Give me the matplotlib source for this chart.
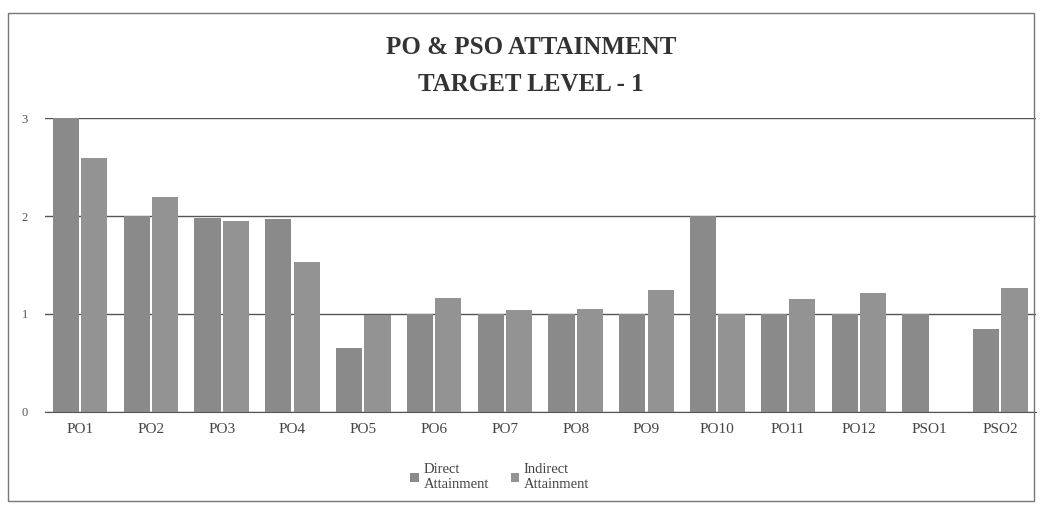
import matplotlib
matplotlib.use("Agg")
import matplotlib.pyplot as plt
import numpy as np
from matplotlib.patches import Rectangle

# values
categories = ["PO1", "PO2", "PO3", "PO4", "PO5", "PO6", "PO7", "PO8", "PO9",
              "PO10", "PO11", "PO12", "PSO1", "PSO2"]
direct = [3.0, 2.0, 1.98, 1.97, 0.65, 1.0, 1.0, 1.0, 1.0, 2.0, 1.0, 1.0, 1.0, 0.85]
indirect = [2.59, 2.19, 1.95, 1.53, 0.99, 1.16, 1.04, 1.05, 1.24, 1.0, 1.15, 1.21, 0.0, 1.26]
yticks = [0, 1, 2, 3]

plt.rcParams["font.family"] = ["Liberation Serif", "DejaVu Serif"]

fig = plt.figure(figsize=(10.41, 5.16), dpi=100)
ax = fig.add_axes([0.043, 0.202, 0.952, 0.569])

x = np.arange(len(categories))
w = 0.37
ax.bar(x - w / 2 - 0.015, direct, w, color="#8a8a8a", label="Direct\nAttainment", zorder=2)
ax.bar(x + w / 2 + 0.015, indirect, w, color="#939393", label="Indirect\nAttainment", zorder=2)

ax.set_xlim(-0.5, len(categories) - 0.5)
ax.set_ylim(0, 3)
ax.set_yticks(yticks)
ax.set_xticks(x)
ax.set_xticklabels(categories)
ax.grid(axis="y", color="#555555", linewidth=1.0, zorder=1)
ax.tick_params(axis="y", length=0, labelsize=9, labelcolor="#555555", pad=12)
ax.tick_params(axis="x", length=0, labelsize=11, labelcolor="#444444", pad=8)
for s in ("top", "right", "left"):
    ax.spines[s].set_visible(False)
ax.spines["bottom"].set_color("#555555")

fig.text(0.51, 0.907, "PO & PSO ATTAINMENT", ha="center", va="center",
         fontsize=18, fontweight="bold", color="#333333")
fig.text(0.51, 0.837, "TARGET LEVEL - 1", ha="center", va="center",
         fontsize=18, fontweight="bold", color="#333333")

fig.legend(loc="center", bbox_to_anchor=(0.48, 0.075), ncol=2, frameon=False,
           fontsize=10.5, handlelength=0.6, handleheight=0.6, handletextpad=0.3,
           columnspacing=1.5, labelspacing=0.6, labelcolor="#444444")

fig.patches.append(Rectangle((0.008, 0.03), 0.985, 0.945, transform=fig.transFigure,
                             fill=False, edgecolor="#777777", linewidth=1.0))

fig.savefig("out.png", dpi=100)
